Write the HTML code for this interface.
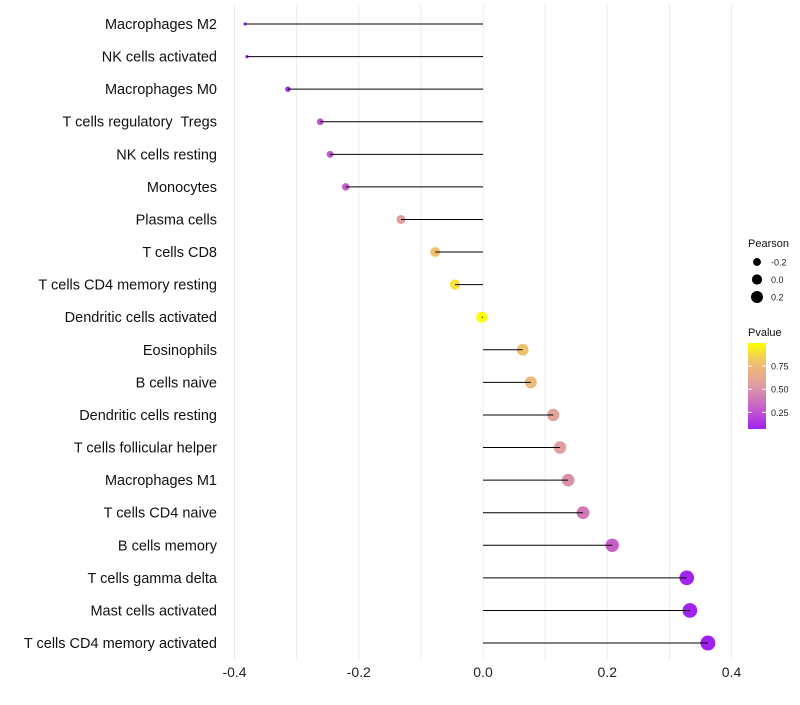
<!DOCTYPE html>
<html><head><meta charset="utf-8"><style>
body{margin:0;background:#fff;font-family:"Liberation Sans",sans-serif;}
text{white-space:pre;}
</style></head><body>
<svg id="chart" width="800" height="700" xmlns="http://www.w3.org/2000/svg"></svg>
<script>
const categories=["Macrophages M2","NK cells activated","Macrophages M0","T cells regulatory  Tregs","NK cells resting","Monocytes","Plasma cells","T cells CD8","T cells CD4 memory resting","Dendritic cells activated","Eosinophils","B cells naive","Dendritic cells resting","T cells follicular helper","Macrophages M1","T cells CD4 naive","B cells memory","T cells gamma delta","Mast cells activated","T cells CD4 memory activated"];
const pearson=[-0.383,-0.380,-0.314,-0.262,-0.246,-0.221,-0.132,-0.077,-0.045,-0.002,0.064,0.077,0.113,0.124,0.137,0.161,0.208,0.328,0.333,0.362];
const pvalue=[0.05,0.06,0.1,0.25,0.27,0.3,0.55,0.8,0.9,1.0,0.8,0.75,0.58,0.55,0.5,0.4,0.3,0.08,0.08,0.07];
const xTicks=[-0.4,-0.2,0.0,0.2,0.4];
const xTickLabels=["-0.4","-0.2","0.0","0.2","0.4"];
const sizeLegend=[-0.2,0.0,0.2];
const colorTicks=[0.25,0.5,0.75];

const NS="http://www.w3.org/2000/svg";
const svg=document.getElementById('chart');
function el(t,a,p){const e=document.createElementNS(NS,t);for(const k in a)e.setAttribute(k,a[k]);(p||svg).appendChild(e);return e;}
const x=v=>483+v*621.25;
const y=i=>24+i*32.58;
const r=v=>Math.sqrt(Math.max(2.5,30+72*v));
function lerp(a,b,t){return a.map((c,i)=>Math.round(c+(b[i]-c)*t));}
function col(p){const t=Math.max(0,Math.min(1,(p-0.07)/0.93));
 const s=[[160,32,240],[200,96,200],[224,160,160],[240,192,112],[255,255,0]];const pos=[0,0.25,0.52,0.78,1];
 for(let i=0;i<4;i++){if(t<=pos[i+1]){const c=lerp(s[i],s[i+1],(t-pos[i])/(pos[i+1]-pos[i]));return `rgb(${c})`;}}return 'rgb(255,255,0)';}
// grid
for(let k=-4;k<=4;k++){const g=el('line',{x1:x(k/10),x2:x(k/10),y1:5,y2:660,stroke:'#ececec','stroke-width':1});
}
xTicks.forEach((v,i)=>{const t=el('text',{x:x(v),y:677,'text-anchor':'middle','font-size':14,fill:'#222'});t.textContent=xTickLabels[i];
});
categories.forEach((c,i)=>{
 const t=el('text',{x:217,y:y(i)+5,'text-anchor':'end','font-size':14.5,fill:'#111'});t.textContent=c;
 
 const d=el('circle',{cx:x(pearson[i]),cy:y(i),r:r(pearson[i]),fill:col(pvalue[i])});
 
 const l=el('line',{x1:x(0),x2:x(pearson[i]),y1:y(i),y2:y(i),stroke:'#000','stroke-width':1});
 
});
// legends
let t=el('text',{x:748,y:247,'font-size':11,fill:'#111'});t.textContent='Pearson';

sizeLegend.forEach((v,i)=>{const cy=262+i*17.5;
 const c=el('circle',{cx:757,cy:cy,r:r(v)*0.75+1,fill:'#000'});
 const tt=el('text',{x:771,y:cy+3.5,'font-size':9,fill:'#222'});tt.textContent=v.toFixed(1);
 });
t=el('text',{x:748,y:336,'font-size':11,fill:'#111'});t.textContent='Pvalue';

const defs=el('defs',{});const g=el('linearGradient',{id:'pg',x1:0,y1:1,x2:0,y2:0},defs);
for(let k=0;k<=10;k++){el('stop',{offset:k/10,'stop-color':col(0.07+0.93*k/10)},g);}
const bar=el('rect',{x:748,y:343,width:18,height:86,fill:'url(#pg)'});

colorTicks.forEach(v=>{const cy=429-(v-0.07)/0.93*86;
 el('line',{x1:748,x2:752,y1:cy,y2:cy,stroke:'#fff'});el('line',{x1:762,x2:766,y1:cy,y2:cy,stroke:'#fff'});
 const tt=el('text',{x:771,y:cy+3.5,'font-size':9,fill:'#222'});tt.textContent=v.toFixed(2);
 });
</script>
</body></html>
